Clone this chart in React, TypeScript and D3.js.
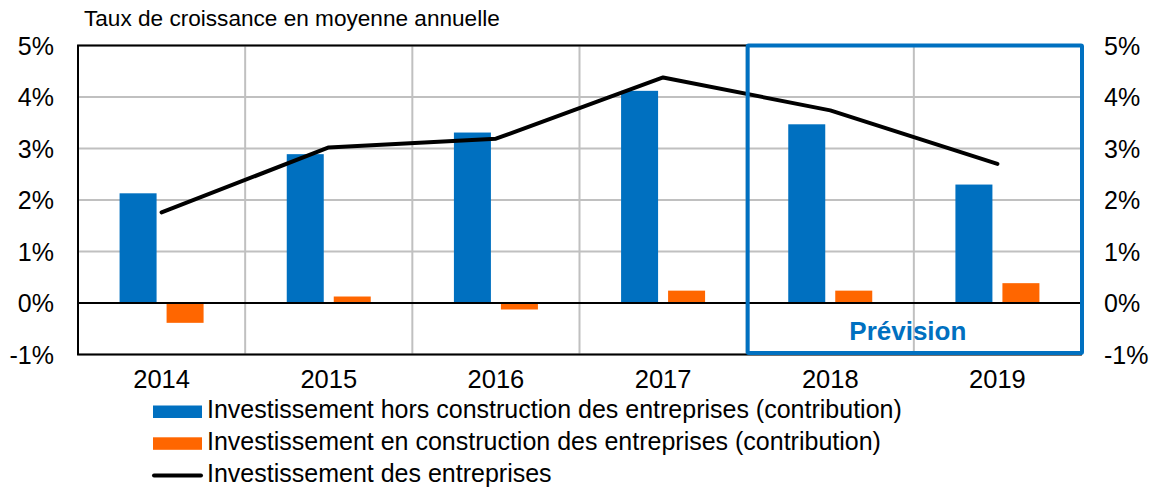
import React from "react";
import * as d3 from "d3";

const years = ["2014", "2015", "2016", "2017", "2018", "2019"];
const horsConstruction = [2.13, 2.89, 3.31, 4.12, 3.47, 2.3];
const construction = [-0.385, 0.126, -0.126, 0.24, 0.24, 0.385];
const total = [1.76, 3.02, 3.19, 4.38, 3.74, 2.7];
const yTicks = [-1, 0, 1, 2, 3, 4, 5];
const forecastYears = ["2018", "2019"];
const legendLabels = [
  "Investissement hors construction des entreprises (contribution)",
  "Investissement en construction des entreprises (contribution)",
  "Investissement des entreprises",
];

const W = 1156;
const H = 488;
const left = 78;
const right = 1081;
const top = 45.5;
const bottom = 354.5;
const BLUE = "#0070C0";
const ORANGE = "#FF6600";
const FONT = "'Liberation Sans', Arial, sans-serif";

export default function App() {
  const x = d3.scaleBand<string>().domain(years).range([left, right]);
  const y = d3.scaleLinear().domain([-1, 5]).range([bottom, top]);
  const bw = 37;
  const gap = 10;
  const cx = (yr: string) => (x(yr) as number) + x.bandwidth() / 2;
  const line = d3
    .line<number>()
    .x((_, i) => cx(years[i]))
    .y((d) => y(d));

  const fx0 = x(forecastYears[0]) as number;
  const fx1 = (x(forecastYears[forecastYears.length - 1]) as number) + x.bandwidth();

  return (
    <svg width={W} height={H} style={{ display: "block", position: "absolute", left: 0, top: 0 }} fontFamily={FONT}>
      <rect x={0} y={0} width={W} height={H} fill="#fff" />
      <text x={84} y={26} fontSize={22.6} fill="#000">
        Taux de croissance en moyenne annuelle
      </text>
      {/* grid */}
      {yTicks.map((t) => (
        <line key={"h" + t} x1={left} x2={right} y1={y(t)} y2={y(t)} stroke="#c0c0c0" strokeWidth={2} />
      ))}
      {years.slice(1).map((yr) => (
        <line key={"v" + yr} x1={x(yr)} x2={x(yr)} y1={top} y2={bottom} stroke="#c0c0c0" strokeWidth={2} />
      ))}
      {/* bars */}
      {years.map((yr, i) => {
        const v = horsConstruction[i];
        return (
          <rect key={"b" + yr} x={cx(yr) - gap / 2 - bw} width={bw} y={y(Math.max(0, v))} height={Math.abs(y(v) - y(0))} fill={BLUE} />
        );
      })}
      {years.map((yr, i) => {
        const v = construction[i];
        return (
          <rect key={"o" + yr} x={cx(yr) + gap / 2} width={bw} y={y(Math.max(0, v))} height={Math.abs(y(v) - y(0))} fill={ORANGE} />
        );
      })}
      {/* zero line */}
      <line x1={left} x2={right} y1={y(0)} y2={y(0)} stroke="#000" strokeWidth={2} />
      {/* frame */}
      <rect x={left} y={top} width={right - left} height={bottom - top} fill="none" stroke="#000" strokeWidth={2} />
      {/* line */}
      <path d={line(total) as string} fill="none" stroke="#000" strokeWidth={4} strokeLinejoin="round" strokeLinecap="round" />
      {/* forecast box */}
      <rect x={fx0 + 1} y={top} width={fx1 - fx0} height={bottom - top - 1.5} fill="none" stroke={BLUE} strokeWidth={4} rx={1} />
      <text x={(fx0 + fx1) / 2 - 6} y={340} textAnchor="middle" fontSize={26} fontWeight="bold" fill={BLUE}>
        Prévision
      </text>
      {/* y labels */}
      {yTicks.map((t) => (
        <text key={"yl" + t} x={54} y={y(t)} dy="0.36em" textAnchor="end" fontSize={25} fill="#000">
          {t + "%"}
        </text>
      ))}
      {yTicks.map((t) => (
        <text key={"yr" + t} x={1104} y={y(t)} dy="0.36em" textAnchor="start" fontSize={25} fill="#000">
          {t + "%"}
        </text>
      ))}
      {/* x labels */}
      {years.map((yr) => (
        <text key={"xl" + yr} x={cx(yr)} y={387.5} textAnchor="middle" fontSize={25.5} fill="#000">
          {yr}
        </text>
      ))}
      {/* legend */}
      {legendLabels.map((lab, i) => {
        const ly = 411.5 + i * 31.8;
        return (
          <g key={"lg" + i}>
            {i < 2 ? (
              <rect x={153} y={ly - 6} width={49} height={12.5} fill={i === 0 ? BLUE : ORANGE} />
            ) : (
              <line x1={154} x2={201} y1={ly + 0.5} y2={ly + 0.5} stroke="#000" strokeWidth={4} strokeLinecap="round" />
            )}
            <text x={207} y={ly + 6.5} fontSize={25} fill="#000">
              {lab}
            </text>
          </g>
        );
      })}
    </svg>
  );
}
